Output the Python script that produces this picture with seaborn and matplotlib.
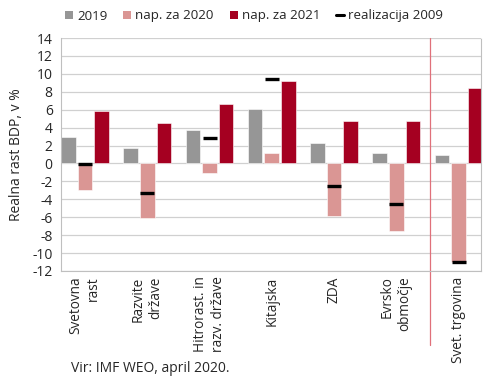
import numpy as np
import pandas as pd
import matplotlib
matplotlib.use("Agg")
import matplotlib.pyplot as plt
from matplotlib.lines import Line2D
from matplotlib.patches import Patch
import seaborn as sns

categories = ["Svetovna\nrast", "Razvite\ndržave", "Hitrorast. in\nrazv. države",
              "Kitajska", "ZDA", "Evrsko\nobmočje", "Svet. trgovina"]
v2019 = [2.9, 1.7, 3.7, 6.1, 2.3, 1.2, 0.9]
v2020 = [-3.0, -6.1, -1.1, 1.2, -5.9, -7.5, -11.0]
v2021 = [5.8, 4.5, 6.6, 9.2, 4.7, 4.7, 8.4]
v2009 = [-0.1, -3.3, 2.8, 9.4, -2.5, -4.5, -11.0]
series_names = ["2019", "nap. za 2020", "nap. za 2021"]
yticks = list(range(-12, 15, 2))

colors = {"2019": "#969696", "nap. za 2020": "#DA9694", "nap. za 2021": "#A50021"}

sns.set_theme(style="white")
plt.rcParams['font.family'] = ['Open Sans', 'DejaVu Sans']

df = pd.DataFrame({
    "cat": categories * 3,
    "serie": sum([[s] * len(categories) for s in series_names], []),
    "val": v2019 + v2020 + v2021,
})

fig = plt.figure(figsize=(4.9, 3.8), dpi=100)
ax = fig.add_axes([61/490, 1 - 271/380, 420/490, 233/380])

sns.barplot(data=df, x="cat", y="val", hue="serie", hue_order=series_names,
            palette=colors, saturation=1, width=0.8, gap=0.12, ax=ax, legend=False,
            edgecolor="white", linewidth=0.4, zorder=2)

# realizacija 2009 markers at centre of the 2020 bar
ax.plot(np.arange(len(categories)), v2009, linestyle="none", marker="_",
        markersize=10, markeredgewidth=2.4, color="black", zorder=4)

ax.set_ylim(-12, 14)
ax.set_yticks(yticks)
ax.set_yticklabels([str(t) for t in yticks], fontsize=10)
ax.set_xlim(-0.385, 6.36)
ax.yaxis.grid(True, color="#D0D0D0", linewidth=0.9, zorder=0)
ax.set_axisbelow(True)
ax.set_xlabel("")
ax.set_ylabel("Realna rast BDP, v %", fontsize=10, labelpad=6)
ax.tick_params(axis="y", length=0, pad=6)
ax.tick_params(axis="x", length=0, pad=4)
ax.set_xticks(np.arange(len(categories)))
ax.set_xticklabels(categories, rotation=90, fontsize=9.8, va="top", ha="center",
                   multialignment="right", linespacing=1.25)

ax.spines["top"].set_visible(False)
ax.spines["left"].set_color("#BFBFBF")
ax.spines["bottom"].set_color("#BFBFBF")
ax.spines["right"].set_color("#BFBFBF")
ax.spines["right"].set_linestyle((0, (1, 1)))
for s in ["left", "bottom", "right"]:
    ax.spines[s].set_linewidth(0.8)

# separator line between regions and world trade
ax.axvline(5.54, ymin=-0.318, ymax=1, color="#E0707A", linewidth=0.9,
           clip_on=False, zorder=1)

handles = [Patch(facecolor=colors[s], edgecolor="none") for s in series_names]
handles.append(Line2D([0], [0], color="black", linewidth=2.2))
labels = series_names + ["realizacija 2009"]
fig.legend(handles, labels, loc="center", bbox_to_anchor=(254/490, 1 - 16/380),
           ncol=4, frameon=False, fontsize=9.6, handlelength=0.6, handleheight=0.6,
           handletextpad=0.3, columnspacing=1.2)

fig.text(71/490, 1 - 368/380, "Vir: IMF WEO, april 2020.", fontsize=10, va="center",
         ha="left")

fig.savefig("out.png", dpi=100)
